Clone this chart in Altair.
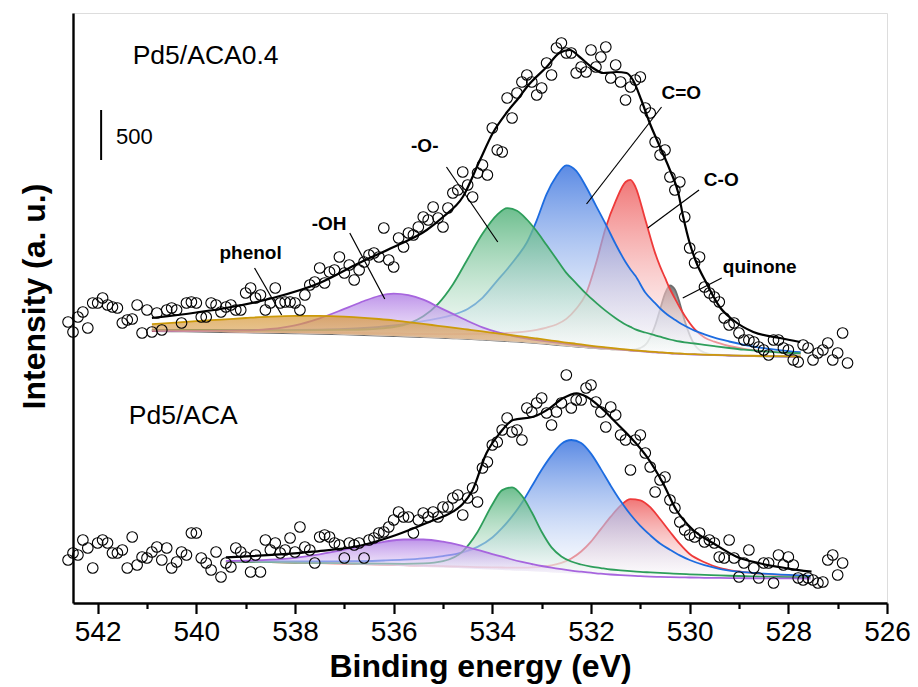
import altair as alt
import pandas as pd

# ---------------------------------------------------------------------------
# O 1s XPS spectra of Pd5/ACA0.4 (upper trace) and Pd5/ACA (lower trace)
# Intensities are in counts (upper trace carries a vertical offset).
# ---------------------------------------------------------------------------

# binding-energy scan grid (eV)
E_SCAN = [
    542.6, 542.5, 542.4, 542.3, 542.2, 542.1, 542.0,
    541.9, 541.8, 541.7, 541.6, 541.5, 541.4, 541.3, 541.2, 541.1, 541.0,
    540.9, 540.8, 540.7, 540.6, 540.5, 540.4, 540.3, 540.2, 540.1, 540.0,
    539.9, 539.8, 539.7, 539.6, 539.5, 539.4, 539.3, 539.2, 539.1, 539.0,
    538.9, 538.8, 538.7, 538.6, 538.5, 538.4, 538.3, 538.2, 538.1, 538.0,
    537.9, 537.8, 537.7, 537.6, 537.5, 537.4, 537.3, 537.2, 537.1, 537.0,
    536.9, 536.8, 536.7, 536.6, 536.5, 536.4, 536.3, 536.2, 536.1, 536.0,
    535.9, 535.8, 535.7, 535.6, 535.5, 535.4, 535.3, 535.2, 535.1, 535.0,
    534.9, 534.8, 534.7, 534.6, 534.5, 534.4, 534.3, 534.2, 534.1, 534.0,
    533.9, 533.8, 533.7, 533.6, 533.5, 533.4, 533.3, 533.2, 533.1, 533.0,
    532.9, 532.8, 532.7, 532.6, 532.5, 532.4, 532.3, 532.2, 532.1, 532.0,
    531.9, 531.8, 531.7, 531.6, 531.5, 531.4, 531.3, 531.2, 531.1, 531.0,
    530.9, 530.8, 530.7, 530.6, 530.5, 530.4, 530.3, 530.2, 530.1, 530.0,
    529.9, 529.8, 529.7, 529.6, 529.5, 529.4, 529.3, 529.2, 529.1, 529.0,
    528.9, 528.8, 528.7, 528.6, 528.5, 528.4, 528.3, 528.2, 528.1, 528.0,
    527.9, 527.8, 527.7, 527.6, 527.5, 527.4, 527.3, 527.2, 527.1, 527.0,
    526.9, 526.8,
]

# measured counts, Pd5/ACA0.4 (542.6 -> 526.8 eV)
TOP_COUNTS = [
    2810, 2710, 2860, 2910, 2750, 3000, 3000,
    3050, 2980, 2960, 2950, 2800, 2830, 2840, 2980, 2700, 2930,
    2710, 2900, 2730, 2930, 2950, 2930, 2800, 3000, 3010, 3000,
    2860, 2860, 3000, 2980, 2910, 2960, 2980, 2930, 2930, 3100,
    3150, 3050, 3080, 2930, 3000, 3150, 3000, 3010, 3010, 3000,
    2930, 3080, 3180, 3210, 3350, 3200, 3310, 3330, 3460, 3300,
    3380, 3230, 3330, 3410, 3480, 3500, 3460, 3750, 3430, 3360,
    3650, 3560, 3700, 3680, 3760, 3860, 3830, 3960, 3850, 3760,
    3950, 4100, 4130, 4310, 4180, 4060, 4300, 4380, 4280, 4750,
    4530, 4510, 5050, 4850, 5100, 5210, 5280, 5210, 5080, 5150,
    5400, 5280, 5550, 5600, 5500, 5500, 5300, 5360, 5310, 5530,
    5360, 5460, 5560, 5250, 5380, 5210, 5030, 5160, 5230, 5260,
    4950, 4900, 4610, 4480, 4530, 4260, 4130, 4210, 3860, 3550,
    3400, 3460, 3160, 3100, 3060, 3010, 2850, 2780, 2800, 2700,
    2630, 2630, 2610, 2560, 2530, 2480, 2630, 2630, 2550, 2530,
    2430, 2410, 2580, 2550, 2430, 2500, 2530, 2600, 2430, 2500,
    2700, 2400,
]

# measured counts, Pd5/ACA (542.6 -> 526.9 eV)
BOTTOM_COUNTS = [
    430, 500, 480, 630, 550, 350, 600,
    630, 600, 500, 500, 530, 350, 660, 380, 460, 450,
    510, 560, 430, 550, 350, 410, 510, 480, 700, 700,
    450, 400, 330, 510, 260, 400, 360, 550, 510, 460,
    310, 480, 310, 630, 530, 600, 500, 530, 650, 510,
    760, 560, 530, 400, 660, 680, 660, 600, 580, 450,
    600, 580, 600, 450, 630, 650, 700, 710, 760, 830,
    910, 860, 860, 700, 830, 900, 860, 910, 860, 960,
    960, 1050, 1080, 880, 1050, 1150, 1010, 1350, 1410, 1580,
    1610, 1730, 1850, 1710, 1730, 1630, 1950, 1910, 2000, 2050,
    1900, 1780, 1910, 2000, 2280, 1950, 2030, 2030, 2150, 2180,
    2010, 1910, 1760, 1960, 1880, 1680, 1630, 1330, 1630, 1680,
    1500, 1360, 1110, 1230, 1260, 1030, 950, 810, 730, 680,
    660, 700, 610, 630, 600, 460, 450, 630, 450, 260,
    400, 530, 350, 250, 400, 400, 200, 480, 380, 460,
    380, 250, 230, 250, 230, 200, 210, 430, 480, 280,
    400,
]

# cumulative fit envelopes
TOP_FIT_E = [540.9, 540.0, 539.4, 538.45, 537.5, 536.7, 536.0, 535.33, 535.0, 534.6,
             534.25, 533.99, 533.7, 533.45, 533.3, 532.9, 532.64, 532.43, 532.23, 531.96,
             531.75, 531.48, 531.28, 531.15, 530.98, 530.81, 530.6, 530.4, 530.23, 530.13,
             530.0, 529.86, 529.66, 529.39, 529.12, 528.71, 528.17, 527.76]
TOP_FIT = [2850, 2905, 2950, 3050, 3200, 3400, 3560, 3730, 3860, 4060,
           4430, 4700, 4910, 5060, 5160, 5360, 5500, 5530, 5460, 5350,
           5300, 5310, 5300, 5230, 5030, 4800, 4560, 4330, 4100, 3860,
           3600, 3400, 3200, 2960, 2830, 2710, 2650, 2610]

BOTTOM_FIT_E = [539.4, 537.64, 536.62, 535.95, 535.27, 534.8, 534.6, 534.4, 534.12, 533.85,
                533.58, 533.17, 532.84, 532.57, 532.29, 532.09, 531.82, 531.48, 531.21, 530.87,
                530.54, 530.27, 529.93, 529.52, 529.05, 528.58, 528.03, 527.53]
BOTTOM_FIT = [457, 513, 580, 680, 813, 913, 990, 1130, 1497, 1697,
              1830, 1863, 1947, 2047, 2097, 2063, 1963, 1797, 1663, 1463,
              1197, 930, 730, 597, 463, 397, 347, 313]

# fitted components: background + net peak intensity on a common grid
TOP_GRID = [540.9, 540.5, 540.0, 539.5, 539.0, 538.5, 538.0, 537.5, 537.0,
            536.6, 536.3, 536.0, 535.7, 535.4, 535.1, 534.8, 534.5, 534.2, 533.9,
            533.7, 533.5, 533.3, 533.1, 532.9, 532.7, 532.5, 532.3, 532.1, 531.9,
            531.7, 531.5, 531.3, 531.2, 531.1, 530.9, 530.7, 530.6, 530.5, 530.4,
            530.3, 530.2, 530.1, 529.9, 529.7, 529.5, 529.2, 528.9, 528.5, 528.1,
            527.75]
TOP_BACKGROUND = [2720, 2717, 2714, 2710, 2706, 2702, 2697, 2692, 2686,
                  2680, 2675, 2670, 2664, 2658, 2652, 2646, 2640, 2632, 2624,
                  2618, 2612, 2605, 2597, 2589, 2580, 2571, 2562, 2553, 2544,
                  2536, 2528, 2520, 2516, 2512, 2505, 2499, 2496, 2493, 2490,
                  2487, 2485, 2483, 2479, 2476, 2473, 2470, 2467, 2464, 2462,
                  2460]
TOP_PEAKS = {
    "phenol": [69, 85, 105, 124, 144, 162, 174, 179, 178,
               172, 165, 156, 144, 133, 120, 108, 95, 84, 72,
               66, 59, 54, 48, 42, 38, 33, 30, 26, 23,
               21, 18, 16, 15, 14, 13, 12, 11, 11, 10,
               10, 10, 9, 9, 8, 8, 7, 7, 6, 6,
               5],
    "-OH": [6, 8, 10, 14, 20, 38, 80, 155, 255,
            340, 395, 424, 415, 375, 310, 245, 180, 125, 85,
            65, 50, 40, 33, 27, 23, 20, 17, 15, 13,
            12, 11, 10, 9, 9, 8, 8, 7, 7, 7,
            6, 6, 6, 6, 5, 5, 5, 4, 4, 4,
            3],
    "-O-": [12, 14, 16, 18, 21, 25, 30, 36, 45,
            55, 68, 90, 130, 210, 340, 540, 800, 1060, 1260,
            1330, 1310, 1230, 1120, 990, 860, 730, 635, 540, 460,
            385, 320, 265, 245, 225, 200, 178, 167, 155, 145,
            137, 130, 124, 116, 106, 96, 80, 66, 52, 42,
            36],
    "C=O": [10, 12, 14, 17, 21, 26, 33, 42, 55,
            70, 85, 105, 130, 160, 195, 235, 300, 420, 600,
            720, 850, 1000, 1230, 1500, 1690, 1806, 1760, 1610, 1430,
            1250, 1060, 890, 820, 760, 600, 500, 450, 410, 375,
            345, 315, 290, 245, 210, 180, 145, 115, 85, 62,
            48],
    "C-O": [5, 6, 7, 8, 9, 10, 12, 14, 17,
            20, 22, 25, 28, 32, 37, 43, 50, 60, 72,
            82, 95, 112, 135, 165, 205, 270, 380, 540, 850,
            1220, 1490, 1690, 1715, 1650, 1330, 1000, 870, 760, 650,
            560, 470, 390, 260, 180, 140, 100, 75, 55, 40,
            32],
    "quinone": [0, 0, 0, 0, 0, 0, 0, 0, 0,
                0, 0, 0, 1, 1, 1, 1, 1, 1, 1,
                1, 1, 1, 2, 2, 2, 2, 3, 3, 4,
                6, 8, 12, 15, 23, 76, 276, 439, 600, 687,
                649, 511, 338, 103, 28, 12, 7, 5, 3, 2,
                2],
}

BOTTOM_GRID = [539.4, 539.0, 538.5, 538.0, 537.5, 537.0, 536.6, 536.2, 535.8, 535.4,
               535.0, 534.6, 534.3, 534.0, 533.8, 533.6, 533.4, 533.2, 533.0, 532.8,
               532.6, 532.4, 532.2, 532.0, 531.8, 531.6, 531.4, 531.2, 531.0, 530.8,
               530.6, 530.4, 530.2, 530.0, 529.7, 529.4, 529.0, 528.5, 528.0, 527.55]
BOTTOM_BACKGROUND = [410, 407, 403, 398, 393, 387, 381, 375, 368, 361,
                     354, 347, 341, 335, 331, 326, 322, 317, 312, 306,
                     301, 295, 290, 284, 279, 273, 269, 265, 261, 258,
                     255, 253, 251, 250, 248, 247, 245, 244, 243, 242]
BOTTOM_PEAKS = {
    "-OH": [12, 17, 30, 54, 94, 146, 193, 237, 267, 274,
            259, 223, 190, 154, 132, 109, 89, 73, 58, 47,
            37, 29, 23, 19, 14, 12, 10, 9, 7, 6,
            6, 5, 5, 5, 4, 4, 3, 3, 3, 3],
    "-O-": [4, 5, 6, 7, 9, 11, 14, 18, 24, 35,
            65, 170, 370, 650, 798, 830, 750, 590, 400, 250,
            165, 120, 95, 80, 70, 62, 57, 53, 50, 48,
            46, 43, 40, 37, 33, 29, 25, 20, 16, 14],
    "C=O": [8, 10, 13, 17, 22, 30, 38, 50, 65, 85,
            115, 160, 220, 320, 420, 540, 680, 850, 1020, 1170,
            1290, 1335, 1310, 1210, 1060, 900, 750, 620, 510, 420,
            340, 280, 225, 180, 130, 95, 68, 50, 38, 30],
    "C-O": [4, 4, 5, 6, 7, 8, 9, 10, 11, 12,
            14, 16, 18, 21, 24, 27, 32, 40, 52, 70,
            100, 150, 225, 330, 460, 590, 705, 773, 766, 700,
            585, 460, 340, 240, 160, 105, 70, 45, 32, 26],
}

# component labels with leader lines
PEAK_LABELS = ["phenol", "-OH", "-O-", "C=O", "C-O", "quinone"]
PEAK_LABEL_E = [538.90, 537.31, 535.37, 530.17, 529.36, 528.58]
PEAK_LABEL_Y = [3440, 3730, 4510, 5040, 4170, 3300]
LEADER_E1 = [538.82, 536.89, 534.93, 530.57, 529.81, 529.35]
LEADER_Y1 = [3350, 3700, 4360, 4960, 4130, 3250]
LEADER_E2 = [538.27, 536.18, 533.89, 532.09, 530.85, 530.14]
LEADER_Y2 = [2880, 3040, 3610, 3990, 3750, 3050]

SAMPLE_NAMES = ["Pd5/ACA0.4", "Pd5/ACA"]
SAMPLE_NAME_E = [541.29, 541.37]
SAMPLE_NAME_Y = [5390, 1787]

SCALE_BAR_E = 541.93
SCALE_BAR_Y = [4430, 4930]
SCALE_BAR_TEXT = "500"
SCALE_TEXT_E = 541.63
SCALE_TEXT_Y = 4590

# line colour, gradient top, gradient bottom; drawn back to front
STYLE = {
    "quinone": ("#6E6E6E", "rgba(105,105,105,0.9)", "rgba(255,255,255,0.45)"),
    "C-O": ("#EE3A3A", "rgba(238,95,95,0.85)", "rgba(255,255,255,0.45)"),
    "C=O": ("#1D6CE0", "rgba(68,122,224,0.88)", "rgba(255,255,255,0.45)"),
    "-O-": ("#2E9E5B", "rgba(78,176,118,0.82)", "rgba(255,255,255,0.45)"),
    "-OH": ("#A765DE", "rgba(168,112,226,0.75)", "rgba(255,255,255,0.45)"),
    "phenol": ("#CC9A0A", "rgba(214,150,52,0.7)", "rgba(222,178,128,0.55)"),
}
DRAW_ORDER = ["quinone", "C-O", "C=O", "-O-", "-OH", "phenol"]

FONT = "Liberation Sans"

# ---------------------------------------------------------------------------
# tables
# ---------------------------------------------------------------------------
points = pd.DataFrame({
    "E": E_SCAN[:len(TOP_COUNTS)] + E_SCAN[:len(BOTTOM_COUNTS)],
    "counts": TOP_COUNTS + BOTTOM_COUNTS,
    "sample": ["Pd5/ACA0.4"] * len(TOP_COUNTS) + ["Pd5/ACA"] * len(BOTTOM_COUNTS),
})

envelope = pd.DataFrame({
    "E": TOP_FIT_E + BOTTOM_FIT_E,
    "counts": TOP_FIT + BOTTOM_FIT,
    "sample": ["Pd5/ACA0.4"] * len(TOP_FIT) + ["Pd5/ACA"] * len(BOTTOM_FIT),
})

rows = []
for sample, grid, bg, peaks in [
    ("Pd5/ACA0.4", TOP_GRID, TOP_BACKGROUND, TOP_PEAKS),
    ("Pd5/ACA", BOTTOM_GRID, BOTTOM_BACKGROUND, BOTTOM_PEAKS),
]:
    for name, net in peaks.items():
        for e, b, v in zip(grid, bg, net):
            rows.append({"sample": sample, "component": name, "E": e,
                         "base": b, "top": b + v})
components = pd.DataFrame(rows)

leaders = pd.DataFrame({"E1": LEADER_E1, "Y1": LEADER_Y1,
                        "E2": LEADER_E2, "Y2": LEADER_Y2})
peak_text = pd.DataFrame({"E": PEAK_LABEL_E, "Y": PEAK_LABEL_Y, "label": PEAK_LABELS})
sample_text = pd.DataFrame({"E": SAMPLE_NAME_E, "Y": SAMPLE_NAME_Y, "label": SAMPLE_NAMES})
scale_bar = pd.DataFrame({"E": [SCALE_BAR_E], "Y1": [SCALE_BAR_Y[0]], "Y2": [SCALE_BAR_Y[1]]})
scale_text = pd.DataFrame({"E": [SCALE_TEXT_E], "Y": [SCALE_TEXT_Y], "label": [SCALE_BAR_TEXT]})

# ---------------------------------------------------------------------------
# scales and axes
# ---------------------------------------------------------------------------
x_scale = alt.Scale(domain=[542.5, 526], nice=False, zero=False)
y_scale = alt.Scale(domain=[0, 5900], nice=False, zero=False)

x_axis = alt.Axis(
    title="Binding energy (eV)",
    values=list(range(526, 543)),
    labelExpr="datum.value % 2 === 0 ? datum.label : ''",
    tickSize={"condition": {"test": "datum.value % 2 === 0", "value": 10.5}, "value": 5.5},
    tickWidth=2.2, tickColor="black",
    domainColor="black", domainWidth=2.4,
    labelFont=FONT, labelFontSize=28, labelColor="black", labelPadding=5,
    labelFlush=False, labelOverlap=False,
    titleFont=FONT, titleFontSize=32, titleFontWeight="bold", titleColor="black",
    titleBaseline="alphabetic", titleY=73,
    grid=False,
)
y_axis = alt.Axis(
    title="Intensity (a. u.)",
    ticks=False, labels=False, grid=False,
    domainColor="black", domainWidth=2.4,
    titleFont=FONT, titleFontSize=32, titleFontWeight="bold", titleColor="black",
    titleAngle=270, titleAlign="center", titleBaseline="middle",
    titleX=-39, titleY=283,
)


def x_enc(field="E"):
    return alt.X(f"{field}:Q", scale=x_scale, axis=x_axis)


def y_enc(field):
    return alt.Y(f"{field}:Q", scale=y_scale, axis=y_axis)


# ---------------------------------------------------------------------------
# layers
# ---------------------------------------------------------------------------
layers = []
for name in DRAW_ORDER:
    line_color, top_fill, bottom_fill = STYLE[name]
    sub = components[components["component"] == name]
    gradient = alt.Gradient(
        gradient="linear",
        stops=[alt.GradientStop(color=top_fill, offset=0),
               alt.GradientStop(color=bottom_fill, offset=1)],
        x1=0, x2=0, y1=0, y2=1,
    )
    layers.append(
        alt.Chart(sub).mark_area(interpolate="monotone", fill=gradient, opacity=1).encode(
            x=x_enc(), y=y_enc("top"), y2=alt.Y2("base:Q"), detail="sample:N")
    )
    layers.append(
        alt.Chart(sub).mark_line(interpolate="monotone", color=line_color, strokeWidth=1.8).encode(
            x=x_enc(), y=y_enc("top"), detail="sample:N")
    )

layers.append(
    alt.Chart(envelope).mark_line(interpolate="monotone", color="black", strokeWidth=2.2).encode(
        x=x_enc(), y=y_enc("counts"), detail="sample:N")
)
layers.append(
    alt.Chart(points).mark_point(shape="circle", filled=False, size=112, color="black",
                                 strokeWidth=1.1, opacity=1).encode(
        x=x_enc(), y=y_enc("counts"))
)
layers.append(
    alt.Chart(leaders).mark_rule(color="black", strokeWidth=1.2).encode(
        x=x_enc("E1"), x2=alt.X2("E2:Q"), y=y_enc("Y1"), y2=alt.Y2("Y2:Q"))
)
layers.append(
    alt.Chart(peak_text).mark_text(font=FONT, fontSize=19, fontWeight="bold", color="black",
                                   align="center", baseline="alphabetic").encode(
        x=x_enc(), y=y_enc("Y"), text="label:N")
)
layers.append(
    alt.Chart(sample_text).mark_text(font=FONT, fontSize=26.5, color="black",
                                     align="left", baseline="alphabetic").encode(
        x=x_enc(), y=y_enc("Y"), text="label:N")
)
layers.append(
    alt.Chart(scale_bar).mark_rule(color="black", strokeWidth=2).encode(
        x=x_enc(), y=y_enc("Y1"), y2=alt.Y2("Y2:Q"))
)
layers.append(
    alt.Chart(scale_text).mark_text(font=FONT, fontSize=22, color="black",
                                    align="left", baseline="alphabetic").encode(
        x=x_enc(), y=y_enc("Y"), text="label:N")
)

chart = (
    alt.layer(*layers)
    .properties(
        width=814, height=590,
        padding={"left": 73, "top": 13, "right": 31, "bottom": 84},
        autosize=alt.AutoSizeParams(type="none"),
        background="white",
    )
    .configure_view(strokeWidth=0)
    .configure(font=FONT)
)

chart.save("out.html", embed_options={"renderer": "svg", "actions": False})
